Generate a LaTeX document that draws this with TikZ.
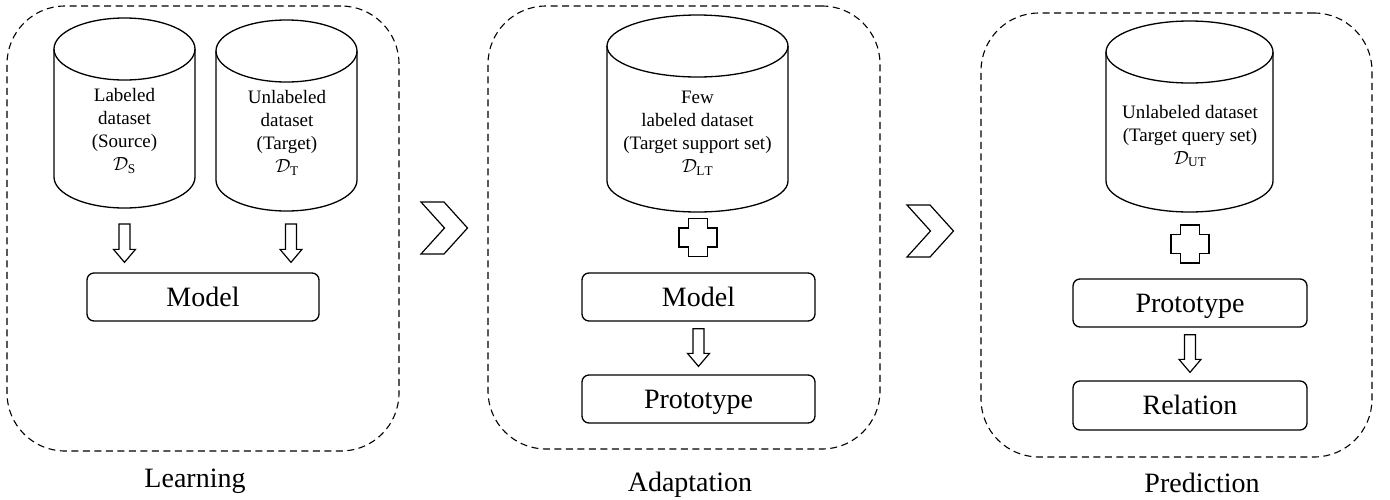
\documentclass[tikz,border=0pt]{standalone}
\usepackage{fix-cm}
\usepackage{amsmath}
\usepackage{fontspec}
\setmainfont[Ligatures=TeX]{Liberation Serif}
\usepackage{tikz}
\usetikzlibrary{calc}

\tikzset{
  panel/.style={draw, dash pattern=on 7pt off 4.5pt, rounded corners=58pt, line width=1.1pt, inner sep=0pt},
  block/.style={draw, rounded corners=7pt, line width=1.3pt, inner sep=0pt,
                font=\rmfamily\fontsize{28}{32}\selectfont, text height=18.5pt, text depth=0pt},
  cyltext/.style={align=center, inner sep=0pt, font=\rmfamily\fontsize{19}{23}\selectfont},
  phase/.style={inner sep=0pt, font=\rmfamily\fontsize{28}{32}\selectfont, text height=18.5pt, text depth=0pt},
  dbline/.style={draw, line width=1.3pt},
  hollow/.style={draw, line width=1.2pt, line join=miter}
}

% database cylinder: name, centre x, top y, bottom y, radius
\newcommand{\database}[5]{%
  \draw[dbline] (#2-#5, #3+31) -- (#2-#5, #4-31)
     arc[start angle=180, end angle=360, x radius=#5pt, y radius=31pt] -- (#2+#5, #3+31);
  \draw[dbline] (#2, #3+31) ellipse [x radius=#5pt, y radius=31pt];
  \coordinate (#1) at (#2, #4);
}
% hollow block arrow from #1 down to the tip #2
\newcommand{\blockarrow}[2]{%
  \draw[hollow] ($(#1)+(-5.5,0)$) -- ($(#1)+(5.5,0)$) -- ($(#2)+(5.5,-13)$) -- ($(#2)+(11,-13)$)
     -- (#2) -- ($(#2)+(-11,-13)$) -- ($(#2)+(-5.5,-13)$) -- cycle;
}
% hollow plus sign centred on #1
\newcommand{\plussign}[1]{%
  \draw[hollow] ($(#1)+(-9.5,-19)$) -- ($(#1)+(9.5,-19)$) -- ($(#1)+(9.5,-9.5)$) -- ($(#1)+(19,-9.5)$)
     -- ($(#1)+(19,9.5)$) -- ($(#1)+(9.5,9.5)$) -- ($(#1)+(9.5,19)$) -- ($(#1)+(-9.5,19)$)
     -- ($(#1)+(-9.5,9.5)$) -- ($(#1)+(-19,9.5)$) -- ($(#1)+(-19,-9.5)$) -- ($(#1)+(-9.5,-9.5)$) -- cycle;
}
% chevron with its top left corner at #1
\newcommand{\chevron}[1]{%
  \draw[hollow] (#1) -- ++(23,0) -- ++(23.5,26) -- ++(-23.5,26) -- ++(-23,0) -- ++(23.5,-26) -- cycle;
}

\begin{document}
\begin{tikzpicture}[x=1pt, y=-1pt]
  \useasboundingbox (0,0) rectangle (1390,499);

  % Learning
  \node [panel, minimum width=392pt, minimum height=445pt] (learnfr) at (203,228.5) {};
  \node [phase] (learnlbl) at (195,478) {Learning};
  \database{cylS}{124.5}{18}{208}{70.5}
  \database{cylT}{286.5}{20}{211}{70.5}
  \node [cyltext] (txtS) at (124.5,131) {Labeled\\dataset\\(Source)\\$\mathcal{D}_{\mathrm{S}}$};
  \node [cyltext] (txtT) at (287,133) {Unlabeled\\dataset\\(Target)\\$\mathcal{D}_{\mathrm{T}}$};
  \node [block, minimum width=232pt, minimum height=48pt] (model1) at (203,297) {Model};

  \coordinate (a1s) at ($(cylS)+(0,16)$);
  \coordinate (a1e) at ($(a1s |- model1.north)+(0,-10)$);
  \coordinate (a2s) at ($(cylT)+(4.5,13)$);
  \coordinate (a2e) at ($(a2s |- model1.north)+(0,-10)$);
  \blockarrow{a1s}{a1e}
  \blockarrow{a2s}{a2e}

  \coordinate (chev1) at (421,202);
  \chevron{chev1}

  % Adaptation
  \node [panel, minimum width=392pt, minimum height=443pt] (adaptfr) at (684,227.5) {};
  \node [phase] (adaptlbl) at (690,482) {Adaptation};
  \database{cylLT}{697.5}{15}{212}{90.5}
  \node [cyltext] (txtLT) at (697.5,133) {Few\\labeled dataset\\(Target support set)\\$\mathcal{D}_{\mathrm{LT}}$};
  \coordinate (plus1) at ($(cylLT)+(0.5,25.5)$);
  \plussign{plus1}
  \node [block, minimum width=233pt, minimum height=48pt] (model2) at (698.5,297) {Model};
  \node [block, minimum width=233pt, minimum height=48pt] (proto1) at (698.5,399) {Prototype};

  \coordinate (a3s) at ($(model2.south)+(0,7)$);
  \coordinate (a3e) at ($(proto1.north)+(0,-8)$);
  \blockarrow{a3s}{a3e}

  \coordinate (chev2) at (907,205);
  \chevron{chev2}

  % Prediction
  \node [panel, minimum width=391pt, minimum height=444pt] (predfr) at (1176.5,235) {};
  \node [phase] (predlbl) at (1202,483) {Prediction};
  \database{cylUT}{1189.5}{21}{212}{83.5}
  \node [cyltext] (txtUT) at (1190,136) {Unlabeled dataset\\(Target query set)\\$\mathcal{D}_{\mathrm{UT}}$};
  \coordinate (plus2) at ($(cylUT)+(0.5,32)$);
  \plussign{plus2}
  \node [block, minimum width=234pt, minimum height=48pt] (proto2) at (1190,303) {Prototype};
  \node [block, minimum width=234pt, minimum height=49pt] (relation) at (1190,405.5) {Relation};

  \coordinate (a4s) at ($(proto2.south)+(0,7)$);
  \coordinate (a4e) at ($(relation.north)+(0,-8)$);
  \blockarrow{a4s}{a4e}
\end{tikzpicture}
\end{document}
